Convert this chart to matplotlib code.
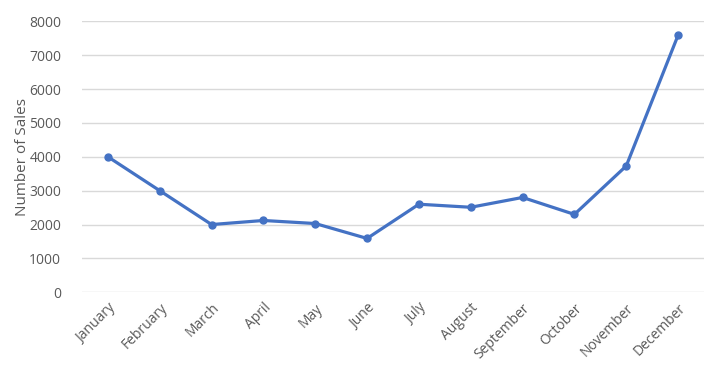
import numpy as np
import matplotlib.pyplot as plt

plt.rcParams['font.family'] = ['Open Sans', 'DejaVu Sans']

months = ['January', 'February', 'March', 'April', 'May', 'June', 'July',
          'August', 'September', 'October', 'November', 'December']
sales = [4000, 3000, 2000, 2120, 2030, 1590, 2600, 2510, 2800, 2300, 3730, 7590]
yticks = [0, 1000, 2000, 3000, 4000, 5000, 6000, 7000, 8000]

fig = plt.figure(figsize=(7.13, 3.76), dpi=100)
ax = fig.add_axes([82 / 713, 1 - 292.3 / 376, 622 / 713, 271 / 376])

x = np.arange(len(months))
ax.plot(x, sales, color='#4472C4', lw=2.3, marker='o', ms=5, zorder=3)

ax.set_xlim(-0.5, len(months) - 0.5)
ax.set_ylim(0, 8000)
ax.set_yticks(yticks)
ax.set_xticks(x)
ax.set_xticklabels(months, rotation=45, ha='right', rotation_mode='anchor')
ax.grid(axis='y', color='#D9D9D9', lw=1)
ax.set_axisbelow(True)
for s in ax.spines.values():
    s.set_visible(False)
ax.tick_params(length=0, labelsize=10, colors='#595959')
ax.tick_params(axis='y', pad=15)
ax.tick_params(axis='x', pad=6)
ax.set_ylabel('Number of Sales', fontsize=11, color='#595959')
ax.yaxis.set_label_coords(-0.084, 0.5)

fig.savefig('out.png', dpi=100)
